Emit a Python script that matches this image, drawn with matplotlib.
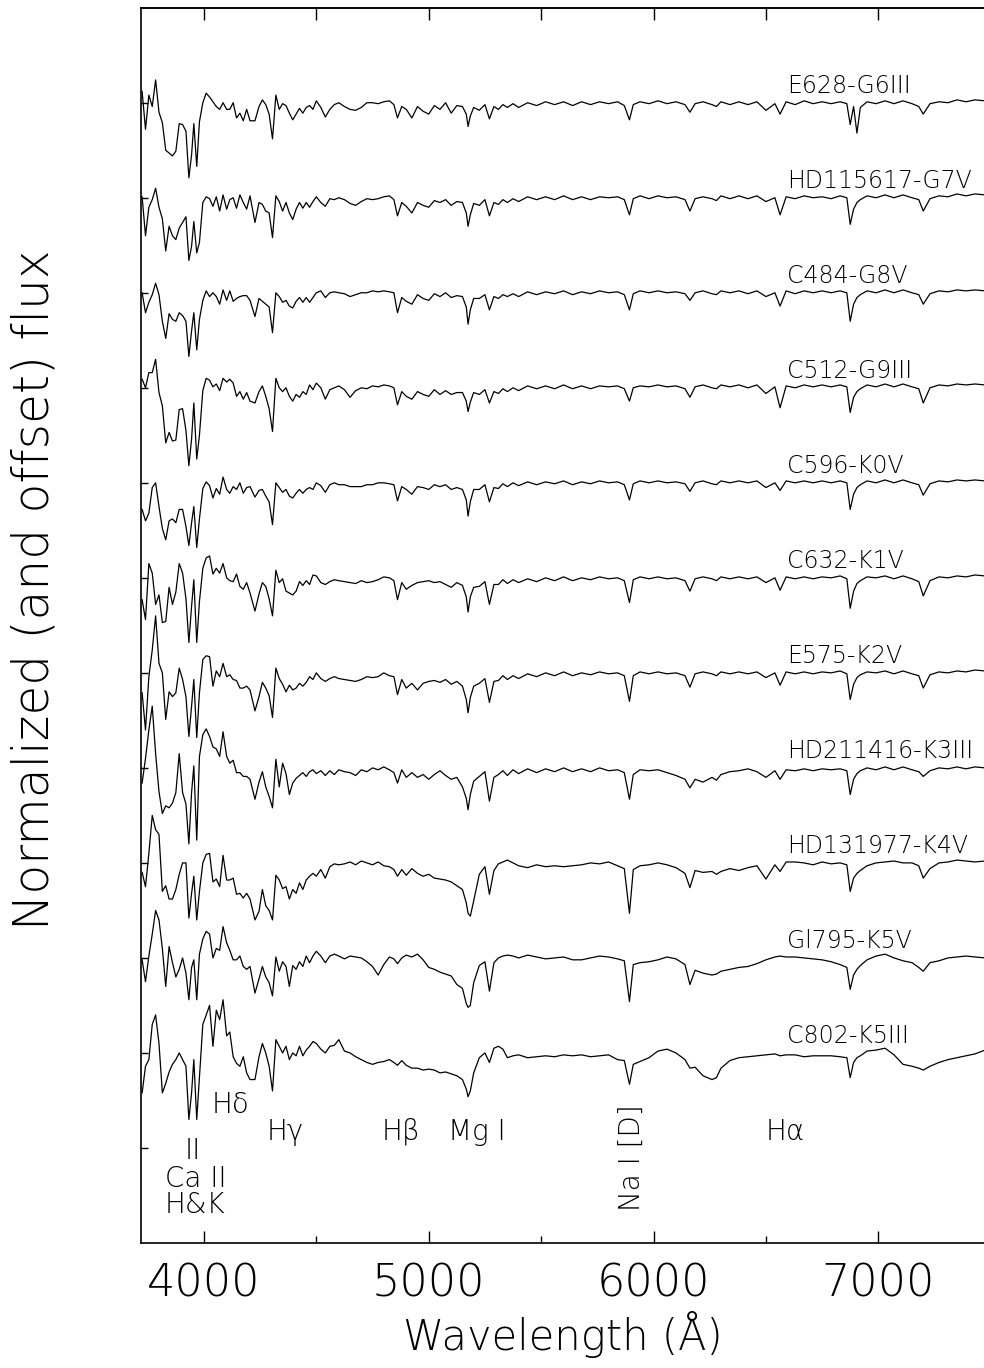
"""
Stacked, normalized and offset optical spectra of G and K stars
"""
import matplotlib
matplotlib.use("Agg")
import matplotlib.pyplot as plt
import numpy as np
from matplotlib.ticker import FixedLocator

# sampled wavelengths (Angstrom), shared by every spectrum
wavelength = [
    3725, 3740, 3755, 3770, 3785, 3800, 3815, 3830, 3845, 3860,
    3875, 3890, 3905, 3920, 3933, 3945, 3955, 3968, 3980, 3995,
    4010, 4025, 4040, 4055, 4070, 4085, 4101, 4115, 4130, 4145,
    4160, 4175, 4190, 4205, 4227, 4245, 4260, 4275, 4290, 4305,
    4320, 4335, 4350, 4365, 4380, 4395, 4410, 4425, 4440, 4455,
    4470, 4485, 4500, 4520, 4540, 4560, 4580, 4600,
    4625, 4650, 4675, 4700, 4725, 4750, 4775, 4800, 4825, 4845,
    4861, 4880, 4900, 4925, 4950, 4975, 5000, 5025, 5050, 5075,
    5100, 5125,
    5150, 5167, 5175, 5185, 5200, 5225, 5250, 5270, 5290, 5310,
    5330, 5350, 5375, 5400, 5440, 5480, 5520, 5560, 5600, 5640,
    5680, 5720, 5760, 5800, 5840, 5870, 5893, 5910, 5940, 5980,
    6020, 6060, 6100, 6140, 6162, 6185, 6220, 6260, 6280, 6300,
    6340, 6380, 6420, 6460, 6500, 6540, 6563, 6590, 6630, 6670,
    6710, 6750, 6790, 6830, 6860, 6875, 6890, 6905, 6920, 6950,
    6990, 7030, 7070, 7110, 7150, 7180, 7200, 7230, 7270, 7310,
    7350, 7390, 7430, 7475,
]

# flux in percent of the continuum level (100 = the star's own y tick)
flux_e628 = [
    112, 72, 108, 96, 124, 90, 79, 50, 47, 44, 49, 78, 77, 70, 21, 45, 78, 33, 80, 100,
    110, 106, 101, 96, 93, 100, 93, 93, 100, 84, 89, 81, 93, 81, 81, 96, 103, 98, 88, 62,
    108, 93, 99, 97, 89, 82, 88, 94, 89, 95, 97, 93, 102, 95, 85, 93, 98, 100,
    96, 93, 92, 95, 100, 100, 99, 101, 102, 98, 84, 96, 93, 84, 96, 91, 88, 97, 93, 100, 89, 97,
    96, 88, 75, 86, 95, 92, 98, 83, 96, 93, 98, 95, 99, 95, 100, 97, 101, 98, 101, 97,
    101, 98, 101, 99, 101, 97, 82, 98, 101, 99, 102, 99, 101, 98, 90, 99, 101, 98, 96, 101,
    98, 101, 98, 101, 92, 99, 88, 101, 98, 102, 99, 101, 99, 101, 99, 77, 96, 68, 95, 101,
    99, 102, 99, 102, 99, 96, 88, 99, 101, 100, 103, 101, 103, 102,
]
flux_hd115617 = [
    101, 60, 90, 98, 110, 90, 78, 44, 70, 60, 56, 68, 74, 80, 34, 49, 75, 42, 53, 95,
    101, 99, 91, 101, 86, 103, 88, 98, 100, 89, 103, 95, 88, 102, 74, 95, 93, 86, 84, 58,
    102, 96, 86, 95, 84, 77, 88, 95, 89, 95, 90, 96, 101, 95, 91, 99, 98, 100,
    98, 94, 92, 96, 99, 98, 99, 101, 102, 98, 81, 95, 91, 84, 95, 92, 90, 97, 95, 98, 92, 96,
    95, 84, 70, 82, 94, 92, 98, 81, 95, 93, 98, 95, 99, 96, 101, 98, 101, 98, 102, 98,
    101, 98, 101, 100, 101, 98, 82, 99, 102, 99, 102, 100, 101, 98, 86, 99, 101, 99, 97, 102,
    99, 102, 99, 102, 96, 100, 82, 101, 99, 102, 100, 101, 99, 102, 100, 72, 88, 95, 98, 102,
    100, 103, 100, 103, 100, 98, 86, 99, 102, 101, 104, 102, 104, 103,
]
flux_c484 = [
    100, 79, 90, 98, 110, 98, 70, 52, 78, 72, 70, 79, 76, 70, 33, 60, 79, 40, 72, 92,
    102, 96, 100, 96, 88, 103, 92, 102, 91, 94, 96, 97, 97, 92, 75, 94, 91, 88, 85, 58,
    100, 96, 90, 92, 86, 84, 91, 95, 90, 95, 90, 95, 100, 102, 95, 100, 101, 100,
    99, 96, 98, 100, 100, 102, 101, 102, 101, 100, 79, 95, 91, 88, 98, 94, 92, 99, 96, 100, 95, 97,
    96, 85, 67, 82, 94, 94, 98, 82, 96, 94, 98, 96, 99, 96, 101, 98, 101, 99, 102, 98,
    101, 99, 102, 100, 101, 98, 82, 99, 102, 100, 102, 100, 101, 99, 92, 100, 102, 99, 98, 102,
    100, 102, 99, 102, 96, 100, 86, 102, 99, 102, 100, 102, 100, 102, 100, 70, 88, 95, 98, 102,
    100, 103, 100, 103, 100, 98, 88, 99, 102, 101, 103, 102, 103, 102,
]
flux_c512 = [
    109, 100, 116, 116, 130, 95, 81, 42, 53, 44, 45, 77, 78, 55, 18, 46, 84, 25, 50, 97,
    110, 108, 101, 104, 97, 110, 106, 109, 105, 91, 96, 88, 95, 86, 84, 96, 102, 91, 78, 54,
    110, 100, 96, 100, 91, 86, 93, 90, 96, 93, 103, 98, 105, 100, 88, 98, 100, 102,
    98, 90, 97, 100, 99, 102, 101, 103, 102, 100, 82, 96, 91, 88, 96, 93, 91, 98, 93, 97, 93, 95,
    95, 86, 75, 85, 95, 93, 98, 84, 96, 94, 99, 96, 100, 97, 102, 99, 102, 99, 103, 99,
    102, 99, 102, 101, 102, 99, 86, 100, 102, 101, 103, 101, 102, 99, 90, 101, 103, 100, 99, 103,
    101, 103, 100, 103, 94, 101, 79, 102, 100, 103, 101, 103, 101, 103, 101, 74, 90, 96, 99, 103,
    101, 104, 101, 104, 101, 99, 84, 100, 103, 102, 104, 103, 104, 103,
]
flux_c596 = [
    72, 60, 68, 95, 100, 75, 52, 40, 60, 62, 58, 72, 72, 54, 34, 58, 75, 32, 62, 94,
    101, 97, 84, 94, 88, 106, 93, 89, 96, 93, 100, 89, 95, 96, 85, 92, 93, 86, 80, 56,
    100, 95, 90, 93, 86, 84, 89, 93, 89, 93, 95, 93, 100, 97, 90, 98, 100, 98,
    98, 96, 96, 96, 98, 98, 100, 100, 99, 98, 81, 96, 93, 88, 96, 95, 93, 98, 96, 98, 93, 95,
    93, 82, 65, 80, 93, 93, 98, 80, 95, 94, 99, 96, 100, 97, 101, 98, 101, 99, 102, 98,
    101, 99, 102, 100, 101, 98, 82, 99, 102, 100, 102, 100, 101, 99, 91, 100, 102, 99, 98, 102,
    100, 102, 100, 102, 95, 100, 92, 102, 100, 102, 100, 102, 100, 102, 100, 72, 88, 95, 98, 102,
    100, 103, 100, 103, 100, 98, 87, 99, 102, 101, 103, 102, 103, 102,
]
flux_c632 = [
    77, 56, 115, 105, 72, 82, 53, 54, 90, 72, 85, 115, 105, 78, 32, 70, 98, 32, 75, 110,
    121, 123, 104, 110, 105, 115, 100, 97, 96, 104, 91, 88, 95, 84, 65, 83, 95, 91, 78, 60,
    108, 95, 99, 86, 84, 82, 86, 96, 92, 97, 93, 103, 102, 95, 93, 96, 98, 97,
    96, 95, 94, 97, 95, 96, 98, 101, 100, 97, 77, 95, 88, 92, 95, 96, 97, 95, 96, 93, 90, 95,
    92, 80, 64, 80, 90, 91, 96, 72, 93, 93, 98, 94, 98, 95, 99, 96, 100, 97, 101, 97,
    100, 98, 101, 99, 100, 97, 74, 98, 101, 99, 101, 99, 100, 97, 86, 99, 101, 99, 97, 101,
    99, 101, 99, 101, 95, 100, 87, 101, 99, 101, 99, 101, 100, 102, 99, 68, 86, 94, 97, 101,
    100, 102, 99, 102, 99, 96, 81, 97, 101, 100, 102, 101, 103, 102,
]
flux_e575 = [
    79, 40, 96, 124, 160, 110, 100, 51, 80, 75, 79, 105, 93, 75, 33, 65, 93, 32, 79, 114,
    118, 117, 86, 102, 96, 110, 96, 98, 93, 92, 84, 84, 86, 82, 60, 75, 90, 84, 76, 53,
    105, 94, 88, 80, 87, 82, 84, 89, 86, 90, 96, 93, 100, 94, 91, 94, 96, 94,
    93, 92, 91, 93, 96, 95, 96, 100, 97, 96, 77, 93, 84, 89, 82, 89, 91, 92, 90, 93, 88, 91,
    86, 72, 58, 74, 86, 89, 94, 69, 91, 92, 97, 93, 97, 94, 99, 96, 100, 97, 101, 97,
    100, 98, 101, 99, 100, 97, 70, 97, 101, 99, 101, 99, 100, 97, 85, 99, 101, 99, 97, 101,
    99, 101, 99, 101, 95, 100, 87, 101, 99, 101, 99, 101, 100, 102, 99, 72, 88, 95, 98, 101,
    100, 102, 99, 102, 99, 97, 84, 98, 101, 100, 102, 101, 103, 102,
]
flux_hd211416 = [
    84, 110, 140, 165, 115, 75, 52, 60, 58, 63, 74, 115, 74, 62, 20, 74, 102, 24, 112, 135,
    141, 133, 122, 120, 112, 138, 112, 105, 108, 95, 95, 91, 91, 88, 67, 85, 96, 80, 70, 58,
    109, 80, 105, 94, 72, 84, 89, 92, 95, 91, 96, 98, 94, 97, 92, 97, 93, 98,
    96, 95, 92, 98, 96, 100, 98, 101, 98, 95, 84, 98, 90, 95, 90, 93, 88, 93, 97, 92, 88, 90,
    80, 68, 56, 72, 86, 91, 96, 65, 90, 93, 97, 92, 98, 94, 99, 95, 99, 96, 100, 96,
    99, 96, 100, 97, 98, 95, 67, 93, 98, 97, 98, 95, 92, 88, 79, 88, 85, 90, 87, 93,
    96, 97, 99, 96, 90, 97, 88, 98, 97, 99, 97, 99, 98, 99, 97, 72, 88, 94, 97, 100,
    98, 101, 98, 101, 98, 96, 91, 97, 100, 99, 101, 99, 101, 100,
]
flux_hd131977 = [
    90, 75, 110, 150, 135, 130, 70, 76, 62, 62, 72, 88, 100, 100, 42, 68, 86, 40, 70, 100,
    109, 110, 80, 83, 75, 108, 82, 82, 84, 67, 68, 63, 68, 62, 40, 49, 72, 55, 50, 40,
    87, 82, 73, 75, 62, 72, 68, 79, 72, 82, 86, 89, 86, 93, 84, 96, 99, 98,
    99, 101, 98, 102, 100, 98, 101, 97, 96, 93, 86, 93, 87, 94, 89, 86, 88, 84, 83, 82, 80, 76,
    72, 58, 47, 44, 60, 88, 96, 67, 92, 99, 101, 103, 100, 97, 95, 98, 96, 97, 96, 97,
    98, 100, 99, 101, 97, 94, 47, 93, 97, 98, 100, 98, 95, 89, 74, 92, 90, 91, 88, 91,
    94, 92, 95, 97, 83, 98, 91, 101, 101, 100, 98, 101, 99, 100, 98, 70, 84, 89, 92, 97,
    100, 101, 102, 100, 100, 97, 84, 94, 100, 101, 103, 102, 101, 102,
]
flux_gl795 = [
    98, 75, 102, 125, 150, 140, 110, 70, 112, 95, 80, 88, 100, 84, 56, 90, 98, 56, 104, 120,
    128, 125, 100, 110, 108, 133, 116, 108, 98, 98, 102, 91, 88, 91, 63, 78, 91, 80, 74, 60,
    101, 86, 96, 91, 70, 92, 88, 96, 91, 102, 95, 102, 107, 102, 95, 102, 104, 102,
    99, 102, 101, 100, 96, 91, 82, 93, 101, 99, 94, 100, 103, 101, 104, 98, 90, 88, 85, 83, 81, 72,
    68, 52, 48, 50, 74, 92, 96, 65, 95, 100, 102, 103, 102, 100, 103, 101, 99, 100, 101, 98,
    98, 100, 102, 101, 99, 97, 54, 93, 95, 96, 98, 101, 99, 93, 72, 87, 84, 82, 83, 86,
    88, 90, 91, 94, 98, 101, 102, 101, 101, 100, 99, 98, 96, 93, 90, 67, 82, 88, 92, 98,
    102, 104, 100, 97, 95, 90, 86, 95, 97, 100, 101, 102, 101, 100,
]
flux_c802 = [
    58, 86, 93, 130, 140, 110, 58, 68, 80, 88, 93, 100, 93, 86, 30, 58, 93, 30, 75, 130,
    140, 150, 107, 145, 135, 156, 118, 122, 96, 89, 86, 96, 79, 72, 72, 96, 110, 100, 86, 60,
    114, 107, 100, 107, 93, 100, 97, 107, 97, 103, 107, 112, 110, 104, 100, 107, 108, 114,
    102, 100, 96, 93, 90, 88, 90, 91, 93, 90, 87, 92, 87, 84, 84, 82, 83, 82, 79, 80, 78, 76,
    72, 62, 54, 60, 79, 95, 100, 90, 105, 107, 104, 95, 97, 98, 95, 96, 97, 96, 98, 97,
    98, 96, 97, 98, 93, 92, 67, 88, 91, 95, 102, 104, 100, 93, 84, 85, 76, 72, 74, 84,
    92, 95, 96, 97, 98, 99, 97, 98, 98, 96, 97, 97, 97, 96, 95, 74, 90, 95, 97, 102,
    103, 105, 98, 88, 86, 84, 82, 86, 90, 93, 95, 97, 99, 103,
]

star_names = [
    "E628-G6III", "HD115617-G7V", "C484-G8V", "C512-G9III", "C596-K0V",
    "C632-K1V", "E575-K2V", "HD211416-K3III", "HD131977-K4V", "Gl795-K5V",
    "C802-K5III",
]
spectra = [
    flux_e628, flux_hd115617, flux_c484, flux_c512, flux_c596, flux_c632,
    flux_e575, flux_hd211416, flux_hd131977, flux_gl795, flux_c802,
]


def stacked_spectra():
    """
    Draw every spectrum shifted by one unit above the next one
    Returns
    -------
    fig : matplotlib figure
    """
    plt.rcParams["font.family"] = ["DejaVu Sans"]
    plt.rcParams["font.weight"] = "light"

    fig = plt.figure(figsize=(9.84, 13.68), dpi=100)
    # axes run past the right edge of the figure, as in the original crop
    axes = fig.add_axes([141 / 984, 1 - 1243 / 1368, 849.7 / 984, 1235.3 / 1368])

    wave = np.array(wavelength)
    n_stars = len(spectra)
    for idx, (name, flux) in enumerate(zip(star_names, spectra)):
        if len(flux) != len(wave):
            raise ValueError(f"{name}: {len(flux)} values for {len(wave)} wavelengths")
        base = n_stars - idx
        axes.plot(wave, base + (np.array(flux) - 100) / 100.0,
                  color="black", lw=0.9)
        axes.text(6593, base + 0.18, name, fontsize=17,
                  ha="left", va="center")

    # line identifications
    axes.text(4116, 0.45, "Hδ", fontsize=20, ha="center", va="center")
    axes.text(4360, 0.17, "Hγ", fontsize=20, ha="center", va="center")
    axes.text(4876, 0.17, "Hβ", fontsize=20, ha="center", va="center")
    axes.text(5214, 0.17, "Mg I", fontsize=20, ha="center", va="center")
    axes.text(6585, 0.17, "Hα", fontsize=20, ha="center", va="center")
    axes.text(5904, -0.10, "Na I [D]", fontsize=20, rotation=90,
              ha="center", va="center")
    axes.text(3950, -0.03, "II", fontsize=20, ha="center", va="center")
    axes.text(3962, -0.33, "Ca II", fontsize=20, ha="center", va="center")
    axes.text(3960, -0.60, "H&K", fontsize=20, ha="center", va="center")

    axes.set_xlim(3720, 7500)
    axes.set_ylim(-1, 12)
    axes.set_xticks([4000, 5000, 6000, 7000])
    axes.xaxis.set_minor_locator(FixedLocator([4500, 5500, 6500, 7500]))
    axes.set_yticks(range(12))
    axes.set_yticklabels([])
    axes.tick_params(axis="x", which="major", direction="in", length=8.6,
                     width=1.0, labelsize=32, pad=14)
    axes.tick_params(axis="x", which="minor", direction="in", length=5,
                     width=1.0)
    axes.tick_params(axis="y", which="major", direction="in", length=5,
                     width=1.0)
    for spine in axes.spines.values():
        spine.set_linewidth(1.2)

    top = axes.secondary_xaxis("top")
    top.set_xticks(np.arange(4000, 7501, 500))
    top.set_xticklabels([])
    top.tick_params(direction="in", length=8.6, width=1.0)
    top.spines["top"].set_linewidth(1.2)

    fig.text(563 / 984, 1 - 1335 / 1368, "Wavelength (Å)", fontsize=30,
             ha="center", va="center")
    fig.text(35 / 984, 1 - 590 / 1368, "Normalized (and offset) flux",
             fontsize=35, rotation=90, ha="center", va="center")
    return fig


if __name__ == "__main__":
    figure = stacked_spectra()
    figure.savefig("out.png", dpi=100)
    plt.close(figure)
